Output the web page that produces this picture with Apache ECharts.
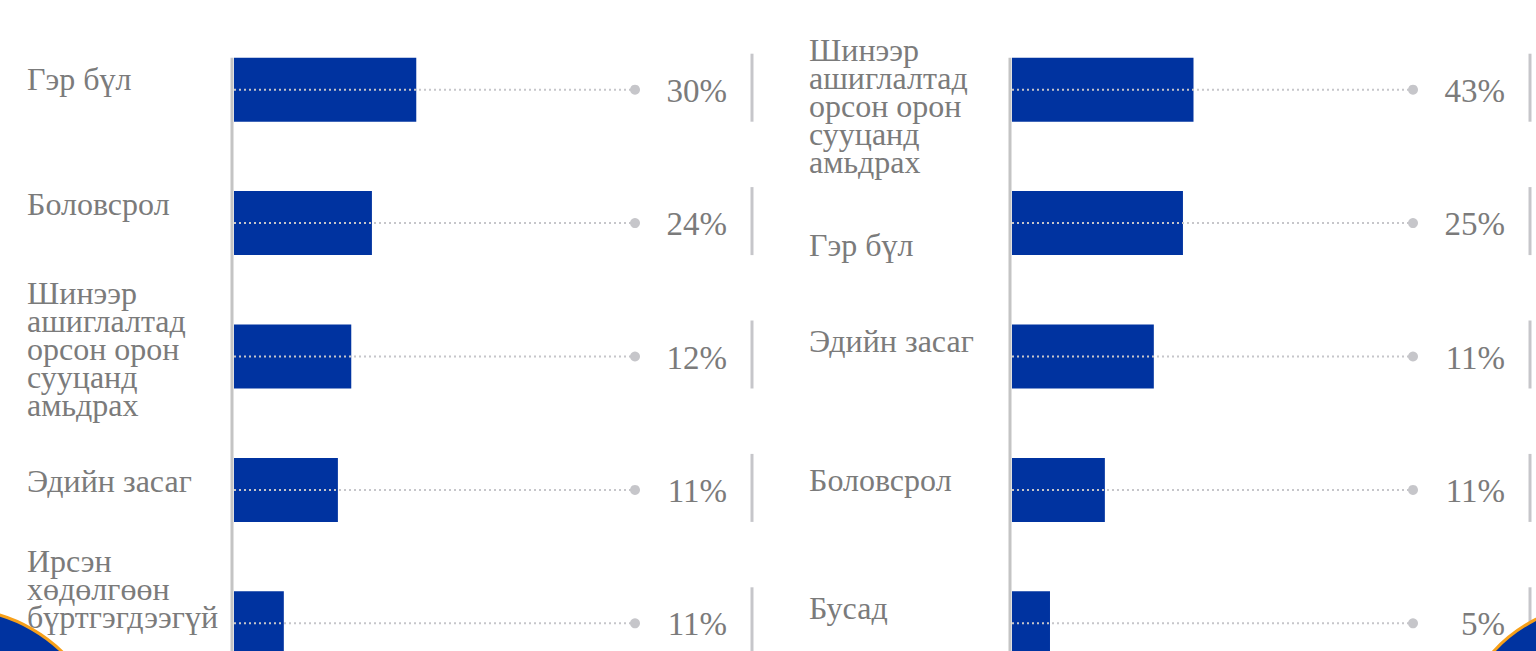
<!DOCTYPE html>
<html>
<head>
<meta charset="utf-8">
<script src="https://cdn.jsdelivr.net/npm/echarts@6/dist/echarts.min.js"></script>
<style>
  html, body { margin: 0; padding: 0; background: #fff; }
  #main { width: 1536px; height: 651px; }
</style>
</head>
<body>
<div id="main"></div>
<script>
var leftCategories = ["Гэр бүл", "Боловсрол", "Шинээр\nашиглалтад\nорсон орон\nсууцанд\nамьдрах", "Эдийн засаг", "Ирсэн\nхөдөлгөөн\nбүртгэгдээгүй"];
var leftBars = [30, 22.7, 19.3, 17.1, 8.2];
var leftPercents = [30, 24, 12, 11, 11];

var rightCategories = ["Шинээр\nашиглалтад\nорсон орон\nсууцанд\nамьдрах", "Гэр бүл", "Эдийн засаг", "Боловсрол", "Бусад"];
var rightBars = [43, 40.5, 33.6, 22, 9];
var rightPercents = [43, 25, 11, 11, 5];

var leftMax = 66;
var rightMax = 95;

// small vertical nudges for the category labels (layout only)
var leftLabelNudge = [-11, -19, -8, -9, -34];
var rightLabelNudge = [16, 22, -16, -10, -15];

var blue = "#0033a0";
var grey = "#c6c6ca";
var textGrey = "#7b7b7b";
var serif = "Liberation Serif, serif";

function makeGuide(nudge, labelGap, categories) {
    return function (params, api) {
        var i = api.value(1);
        var end = api.coord([api.value(0), i]);
        var start = api.coord([0, i]);
        var y = end[1];
        var children = [
            {
                type: "line",
                shape: { x1: start[0], y1: y, x2: end[0], y2: y },
                style: { stroke: grey, lineWidth: 2, lineDash: [2, 3] }
            },
            {
                type: "circle",
                shape: { cx: end[0], cy: y, r: 5 },
                style: { fill: grey }
            },
            {
                type: "text",
                x: end[0] + 92,
                y: y + 1,
                style: {
                    text: api.value(2) + "%",
                    fill: textGrey,
                    fontFamily: serif,
                    fontSize: 33,
                    align: "right",
                    verticalAlign: "middle"
                }
            },
            {
                type: "line",
                shape: { x1: end[0] + 117, y1: y - 36, x2: end[0] + 117, y2: y + 32 },
                style: { stroke: grey, lineWidth: 3 }
            },
            {
                type: "text",
                x: start[0] - labelGap,
                y: y + nudge[params.dataIndex],
                style: {
                    text: categories[params.dataIndex],
                    fill: textGrey,
                    fontFamily: serif,
                    fontSize: 32,
                    lineHeight: 28,
                    align: "left",
                    verticalAlign: "middle"
                }
            }
        ];
        if (params.dataIndex === 0) {
            children.push({
                type: "line",
                shape: { x1: start[0] - 2, y1: y - 32, x2: start[0] - 2, y2: api.getHeight() },
                style: { stroke: "#c4c4c4", lineWidth: 3 }
            });
        }
        return { type: "group", children: children };
    };
}

var chart = echarts.init(document.getElementById("main"), null, { renderer: "svg" });

var options = {
    animation: false,
    backgroundColor: "#fff",
    grid: [
        { left: 234, width: 401, top: 23, height: 667, outerBoundsMode: "none" },
        { left: 1012, width: 401, top: 23, height: 667, outerBoundsMode: "none" }
    ],
    xAxis: [
        { type: "value", gridIndex: 0, min: 0, max: leftMax, show: false },
        { type: "value", gridIndex: 1, min: 0, max: rightMax, show: false }
    ],
    yAxis: [
        { type: "category", gridIndex: 0, data: leftCategories, inverse: true, show: false },
        { type: "category", gridIndex: 1, data: rightCategories, inverse: true, show: false }
    ],
    graphic: [
        {
            type: "circle",
            shape: { cx: -43, cy: 759, r: 150 },
            style: { fill: blue, stroke: "#f6a01a", lineWidth: 3 },
            z: 100
        },
        {
            type: "circle",
            shape: { cx: 1604, cy: 753, r: 150 },
            style: { fill: blue, stroke: "#f6a01a", lineWidth: 3 },
            z: 100
        }
    ],
    series: [
        {
            type: "bar",
            xAxisIndex: 0,
            yAxisIndex: 0,
            data: leftBars,
            barWidth: 64,
            itemStyle: { color: blue },
            z: 2
        },
        {
            type: "bar",
            xAxisIndex: 1,
            yAxisIndex: 1,
            data: rightBars,
            barWidth: 64,
            itemStyle: { color: blue },
            z: 2
        },
        {
            type: "custom",
            xAxisIndex: 0,
            yAxisIndex: 0,
            renderItem: makeGuide(leftLabelNudge, 207, leftCategories),
            data: leftPercents.map(function (p, i) { return [leftMax, i, p]; }),
            z: 3
        },
        {
            type: "custom",
            xAxisIndex: 1,
            yAxisIndex: 1,
            renderItem: makeGuide(rightLabelNudge, 203, rightCategories),
            data: rightPercents.map(function (p, i) { return [rightMax, i, p]; }),
            z: 3
        }
    ]
};

chart.setOption(options);

window.onresize = function () {
    chart.resize();
};
</script>
</body>
</html>
